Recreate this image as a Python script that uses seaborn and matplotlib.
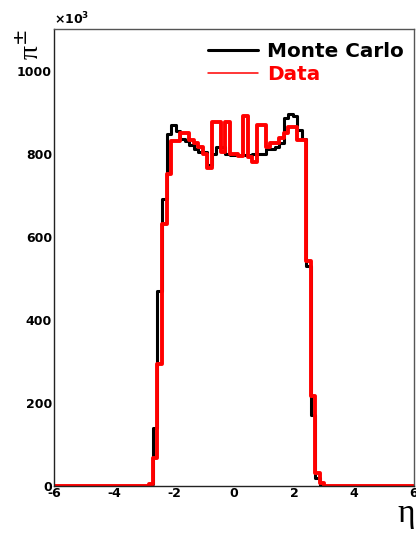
import numpy as np
import pandas as pd
import seaborn as sns
import matplotlib
matplotlib.use("Agg")
import matplotlib.pyplot as plt
from matplotlib.lines import Line2D
from matplotlib.ticker import MultipleLocator

# Pseudorapidity binning: 80 bins of width 0.15 between -6 and 6
eta_min, eta_max, n_bins = -6.0, 6.0, 80
first_filled_bin = 21  # bin starting at eta = -2.85

# pi+- yield per bin (x10^3), bins from eta = -2.85 up to eta = 3.0
mc_counts = [5, 140, 470, 690, 848, 870, 855, 835, 830, 820,
             810, 805, 805, 773, 800, 815, 815, 800, 797, 797,
             797, 797, 797, 800, 800, 800, 810, 810, 815, 825,
             885, 895, 890, 858, 835, 530, 170, 20, 3]
data_counts = [5, 67, 294, 630, 750, 830, 830, 850, 850, 834,
               825, 817, 800, 766, 877, 877, 805, 875, 800, 800,
               795, 890, 793, 780, 870, 870, 815, 826, 826, 838,
               850, 865, 865, 834, 834, 542, 217, 31, 7]

series_names = ["Monte Carlo", "Data"]
series_colors = ["black", "red"]

edges = np.linspace(eta_min, eta_max, n_bins + 1)
centers = 0.5 * (edges[:-1] + edges[1:])


def full_hist(counts):
    h = np.zeros(n_bins)
    h[first_filled_bin:first_filled_bin + len(counts)] = counts
    return h


df = pd.DataFrame({
    "eta": np.concatenate([centers, centers]),
    "count": np.concatenate([full_hist(mc_counts), full_hist(data_counts)]),
    "sample": np.repeat(series_names, n_bins),
})

sns.set_style("white")
plt.rcParams["font.family"] = ["DejaVu Sans"]
plt.rcParams["axes.unicode_minus"] = False
plt.rcParams["text.color"] = "black"
plt.rcParams["xtick.color"] = "black"
plt.rcParams["ytick.color"] = "black"

fig = plt.figure(figsize=(4.16, 5.34), dpi=100)
ax = fig.add_axes([54 / 416, 48 / 534, 360 / 416, 457 / 534])

line_widths = {"Monte Carlo": 2.2, "Data": 2.8}
for name, color in zip(series_names, series_colors):
    sub = df[df["sample"] == name]
    sns.histplot(data=sub, x="eta", weights="count", bins=n_bins,
                 binrange=(eta_min, eta_max),
                 element="step", fill=False, color=color,
                 linewidth=line_widths[name], ax=ax)

ax.set_xlim(eta_min, eta_max)
ax.set_ylim(0, 1100)
ax.set_xlabel("")
ax.set_ylabel("")

ax.xaxis.set_major_locator(MultipleLocator(2))
ax.xaxis.set_minor_locator(MultipleLocator(0.5))
ax.yaxis.set_major_locator(MultipleLocator(200))
ax.yaxis.set_minor_locator(MultipleLocator(50))
ax.tick_params(which="both", direction="in", top=False, right=False,
               color="#222222", width=0.8)
ax.tick_params(which="major", length=8.6, labelsize=9, labelcolor="black")
ax.tick_params(axis="x", which="major", pad=0.5)
ax.tick_params(axis="y", which="major", pad=1.5)
ax.tick_params(which="minor", length=4.7)
for lab in ax.get_xticklabels() + ax.get_yticklabels():
    lab.set_fontweight("bold")

for side, spine in ax.spines.items():
    spine.set_visible(True)
    spine.set_color("#222222" if side in ("left", "bottom") else "#555555")
    spine.set_linewidth(1.0)

# Multiplier for the vertical axis
ax.text(0.0, 1.003, r"$\mathbf{\times 10^{3}}$", transform=ax.transAxes,
        ha="left", va="bottom", fontsize=9)

# Axis titles
fig.text(31 / 416, 1 - 45 / 534, r"$\mathregular{π}^{\pm}$", rotation=90,
         ha="center", va="center", fontsize=20, family="Liberation Serif")
fig.text(397 / 416, 1 - 522 / 534, "η", ha="left", va="baseline",
         fontsize=24, family="Liberation Serif")

handles = [Line2D([], [], color="black", lw=2.2),
           Line2D([], [], color="red", lw=1.1)]
ax.legend(handles, series_names, loc="upper right",
          bbox_to_anchor=(0.993, 0.99), frameon=False,
          prop={"weight": "bold", "size": 14.4},
          labelcolor=series_colors, handlelength=2.5,
          handletextpad=0.45, labelspacing=0.2, borderaxespad=0.0)

fig.savefig("out.png", dpi=100)
